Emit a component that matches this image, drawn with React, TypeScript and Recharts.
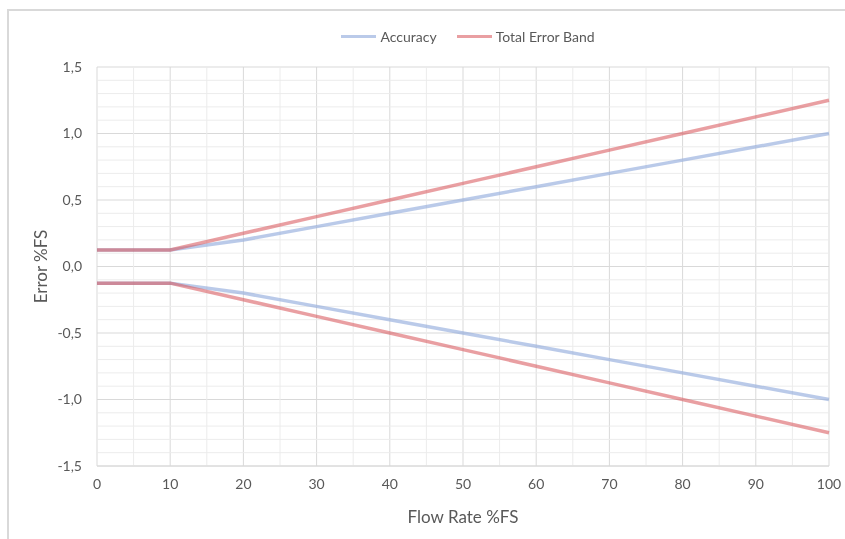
import React from "react";
import {
  LineChart,
  Line,
  XAxis,
  YAxis,
  CartesianGrid,
  ReferenceLine,
  Label,
} from "recharts";

const flowRate = [0, 10, 20, 30, 40, 50, 60, 70, 80, 90, 100];
const accuracyUpper = [0.125, 0.125, 0.2, 0.3, 0.4, 0.5, 0.6, 0.7, 0.8, 0.9, 1.0];
const accuracyLower = [-0.125, -0.125, -0.2, -0.3, -0.4, -0.5, -0.6, -0.7, -0.8, -0.9, -1.0];
const bandUpper = [0.125, 0.125, 0.25, 0.375, 0.5, 0.625, 0.75, 0.875, 1.0, 1.125, 1.25];
const bandLower = [-0.125, -0.125, -0.25, -0.375, -0.5, -0.625, -0.75, -0.875, -1.0, -1.125, -1.25];

const xTicks = [0, 10, 20, 30, 40, 50, 60, 70, 80, 90, 100];
const yTicks = [-1.5, -1.0, -0.5, 0, 0.5, 1.0, 1.5];
const xMinor = [5, 15, 25, 35, 45, 55, 65, 75, 85, 95];
const yMinor = [
  -1.4, -1.3, -1.2, -1.1, -0.9, -0.8, -0.7, -0.6, -0.4, -0.3, -0.2, -0.1,
  0.1, 0.2, 0.3, 0.4, 0.6, 0.7, 0.8, 0.9, 1.1, 1.2, 1.3, 1.4,
];

const seriesNames = ["Accuracy", "Total Error Band"];

const data = flowRate.map((x, i) => ({
  x,
  accUp: accuracyUpper[i],
  accLo: accuracyLower[i],
  bandUp: bandUpper[i],
  bandLo: bandLower[i],
}));

const BLUE = "#8FAADC";
const RED = "#D9595F";
const TEXT = "#595959";
const FONT = "Lato, 'Open Sans', sans-serif";

export default function App() {
  return (
    <div
      style={{
        position: "fixed",
        top: 0,
        left: 0,
        width: 845,
        height: 539,
        background: "#fff",
        fontFamily: FONT,
      }}
    >
      {/* Excel chart frame (top + left only visible) */}
      <div
        style={{
          position: "absolute",
          top: 9,
          left: 7,
          right: 0,
          bottom: 0,
          borderTop: "2px solid #d9d9d9",
          borderLeft: "2px solid #d9d9d9",
        }}
      />

      {/* legend */}
      <div
        style={{
          position: "absolute",
          top: 28,
          left: 0,
          width: 936,
          display: "flex",
          justifyContent: "center",
          gap: 20,
          fontSize: 14,
          color: TEXT,
        }}
      >
        {seriesNames.map((name, i) => (
          <div key={name} style={{ display: "flex", alignItems: "center", gap: 4 }}>
            <span
              style={{
                display: "inline-block",
                width: 35,
                height: 3.5,
                background: i === 0 ? BLUE : RED,
                opacity: i === 0 ? 0.62 : 0.58,
              }}
            />
            <span>{name}</span>
          </div>
        ))}
      </div>

      <div style={{ position: "absolute", top: 0, left: 0 }}>
        <LineChart
          width={845}
          height={539}
          data={data}
          margin={{ top: 67, right: 16, bottom: 13, left: 0 }}
        >
          <CartesianGrid stroke="#d9d9d9" strokeWidth={1} />
          {xMinor.map((v) => (
            <ReferenceLine key={"x" + v} x={v} stroke="#ececec" strokeWidth={1} />
          ))}
          {yMinor.map((v) => (
            <ReferenceLine key={"y" + v} y={v} stroke="#ececec" strokeWidth={1} />
          ))}
          <XAxis
            dataKey="x"
            type="number"
            domain={[0, 100]}
            ticks={xTicks}
            height={60}
            axisLine={{ stroke: "#d9d9d9" }}
            tickLine={false}
            tickSize={0}
            tickMargin={13}
            tick={{ fill: TEXT, fontSize: 14, fontFamily: FONT }}
          >
            <Label
              value="Flow Rate %FS"
              position="insideBottom"
              offset={3}
              style={{ fill: TEXT, fontSize: 17, fontFamily: FONT }}
            />
          </XAxis>
          <YAxis
            type="number"
            domain={[-1.5, 1.5]}
            ticks={yTicks}
            width={97}
            axisLine={false}
            tickLine={false}
            tickSize={0}
            tickMargin={15}
            tickFormatter={(v: number) => v.toFixed(1).replace(".", ",")}
            tick={{ fill: TEXT, fontSize: 14, fontFamily: FONT }}
          >
            <Label
              content={({ viewBox }: any) => {
                const cy = viewBox.y + viewBox.height / 2;
                return (
                  <text
                    x={40}
                    y={cy}
                    transform={`rotate(-90 40 ${cy})`}
                    textAnchor="middle"
                    dominantBaseline="central"
                    fill={TEXT}
                    fontSize={17}
                    fontFamily={FONT}
                  >
                    Error %FS
                  </text>
                );
              }}
            />
          </YAxis>
          <Line
            dataKey="accUp"
            name={seriesNames[0]}
            stroke={BLUE}
            strokeOpacity={0.62}
            strokeWidth={3.5}
            dot={false}
            isAnimationActive={false}
          />
          <Line
            dataKey="accLo"
            stroke={BLUE}
            strokeOpacity={0.62}
            strokeWidth={3.5}
            dot={false}
            legendType="none"
            isAnimationActive={false}
          />
          <Line
            dataKey="bandUp"
            name={seriesNames[1]}
            stroke={RED}
            strokeOpacity={0.58}
            strokeWidth={3.5}
            dot={false}
            isAnimationActive={false}
          />
          <Line
            dataKey="bandLo"
            stroke={RED}
            strokeOpacity={0.58}
            strokeWidth={3.5}
            dot={false}
            legendType="none"
            isAnimationActive={false}
          />
        </LineChart>
      </div>
    </div>
  );
}
